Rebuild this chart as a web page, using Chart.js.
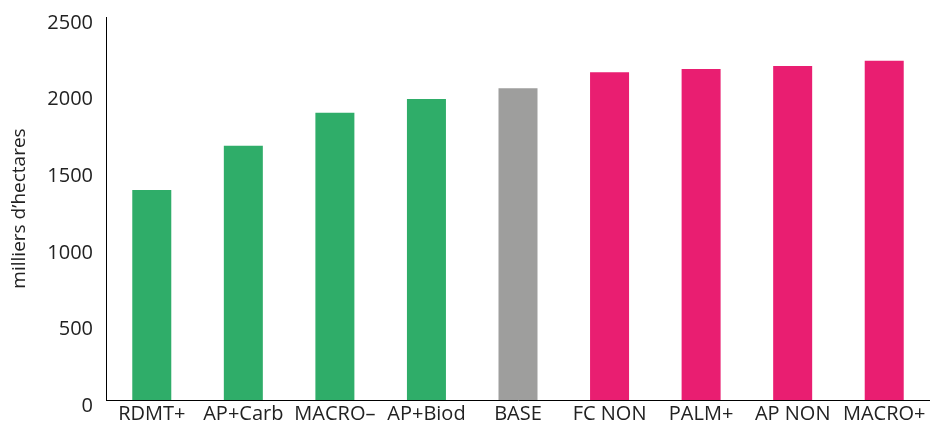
<!DOCTYPE html>
<html lang="fr">
<head>
<meta charset="utf-8">
<script src="https://cdn.jsdelivr.net/npm/chart.js@4/dist/chart.umd.min.js"></script>
<style>
  html, body { margin: 0; padding: 0; background: #fff; }
  #box { width: 930px; height: 423px; }
</style>
</head>
<body>
<div id="box"><canvas id="surface"></canvas></div>
<script>
// Scénarios et surfaces (milliers d'hectares)
const scenarios = ["RDMT+", "AP+Carb", "MACRO\u2013", "AP+Biod", "BASE", "FC NON", "PALM+", "AP NON", "MACRO+"];
const surfaces = [1370, 1660, 1875, 1965, 2035, 2140, 2160, 2180, 2215];
const groupes = ["vert", "vert", "vert", "vert", "base", "rose", "rose", "rose", "rose"];
const yTicks = [0, 500, 1000, 1500, 2000, 2500];

const couleurs = { vert: "#2FAD69", base: "#9E9E9D", rose: "#E91E71" };
const police = "'Open Sans', 'DejaVu Sans', sans-serif";

const ctx = document.getElementById("surface").getContext("2d");
new Chart(ctx, {
  type: "bar",
  data: {
    labels: scenarios,
    datasets: [{
      data: surfaces,
      backgroundColor: groupes.map(g => couleurs[g]),
      borderWidth: 0,
      categoryPercentage: 1,
      barPercentage: 0.426
    }]
  },
  options: {
    responsive: true,
    maintainAspectRatio: false,
    animation: false,
    layout: { padding: { top: 17, right: 0, left: 0, bottom: 0 } },
    plugins: {
      legend: { display: false },
      tooltip: { enabled: false }
    },
    scales: {
      x: {
        grid: { display: false, drawTicks: false },
        border: { display: true, color: "#000", width: 1 },
        ticks: {
          color: "#222",
          font: { family: police, size: 20 },
          padding: 2,
          maxRotation: 0,
          autoSkip: false
        },
        afterFit: s => { s.height = 23; s.paddingLeft = 0; s.paddingRight = 0; }
      },
      y: {
        min: 0,
        max: 2500,
        grid: { display: false, drawTicks: false },
        border: { display: true, color: "#000", width: 1 },
        afterBuildTicks: s => { s.ticks = yTicks.map(v => ({ value: v })); },
        ticks: {
          color: "#222",
          font: { family: police, size: 20 },
          padding: 13,
          labelOffset: 6,
          callback: v => String(v)
        },
        title: {
          display: true,
          text: "milliers d\u2019hectares",
          color: "#222",
          font: { family: police, size: 19 },
          padding: { top: 8, bottom: 4 }
        },
        afterFit: s => { s.width = 106; s.paddingTop = 0; s.paddingBottom = 0; }
      }
    }
  }
});
</script>
</body>
</html>
